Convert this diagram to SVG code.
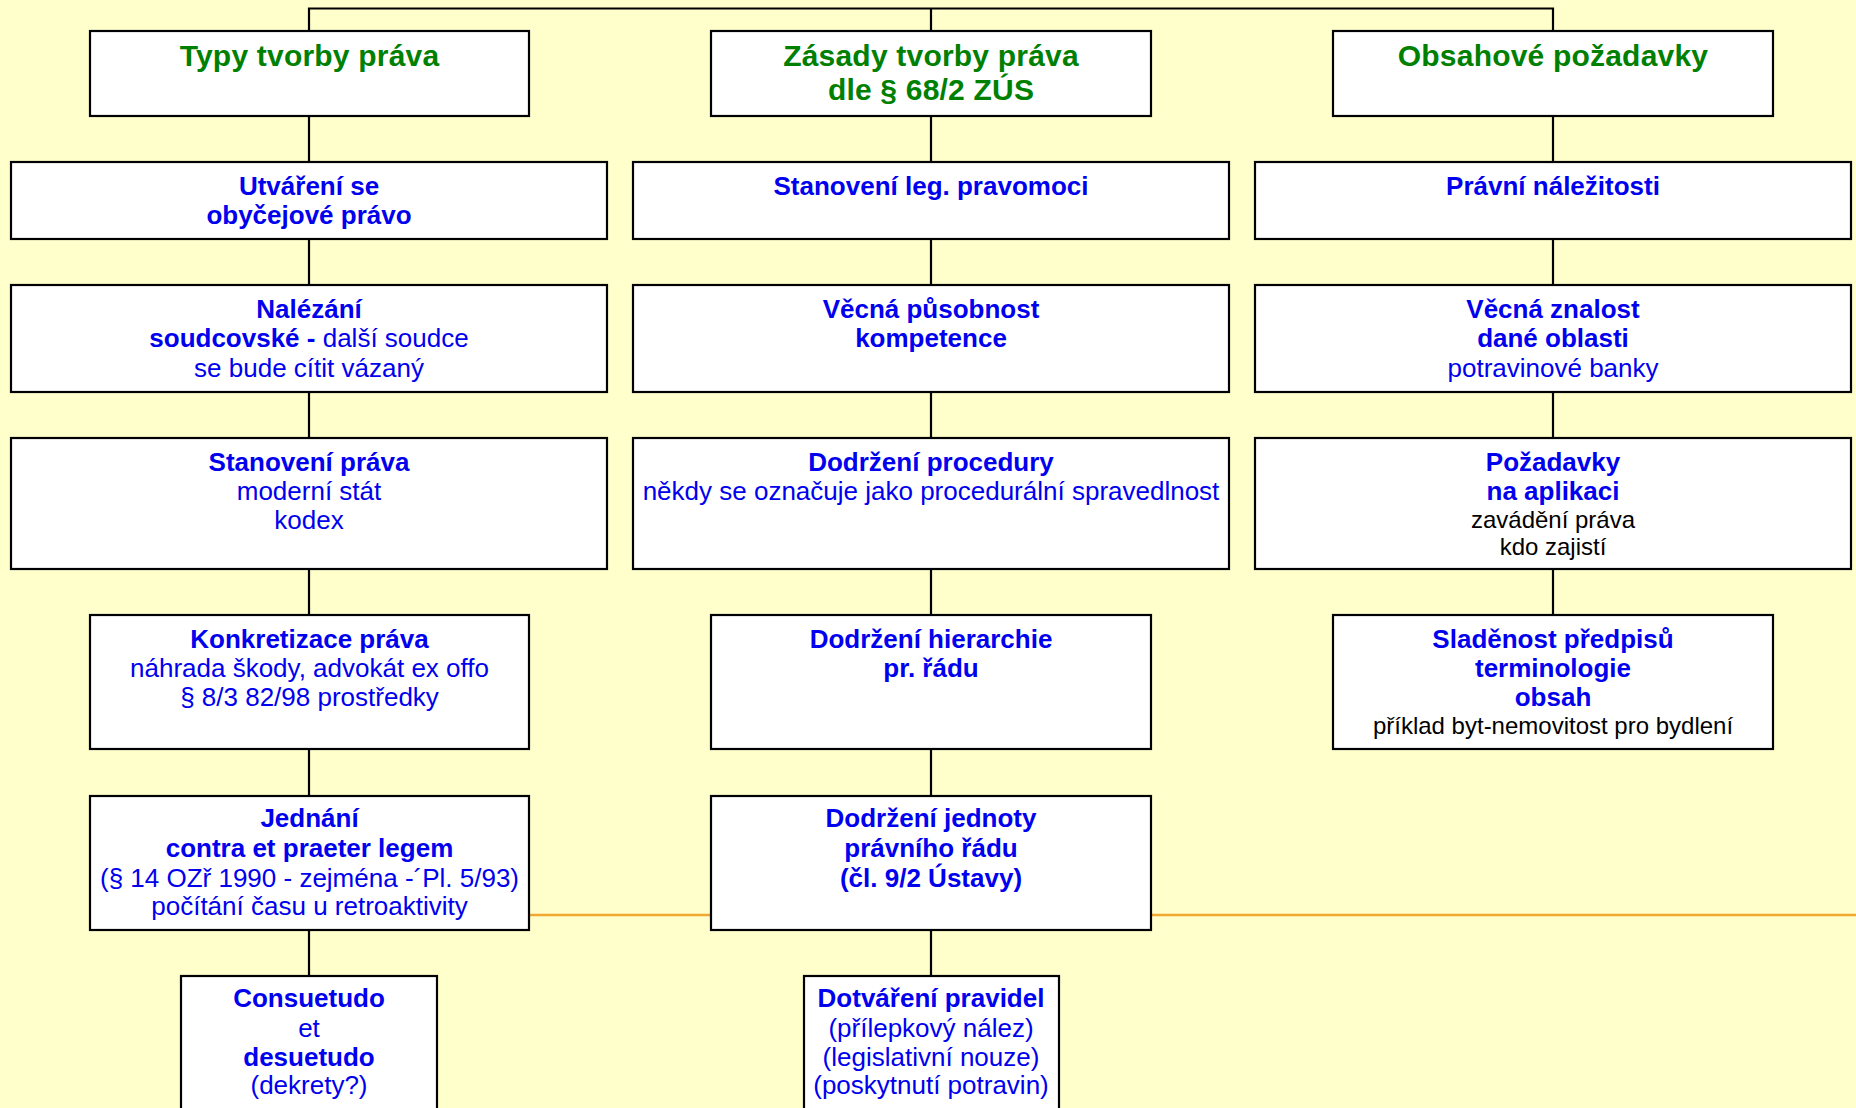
<svg xmlns="http://www.w3.org/2000/svg" width="1856" height="1108" viewBox="0 0 1856 1108">
<style>
.box{fill:#ffffff;stroke:#000000;stroke-width:2.2}
.con{fill:none;stroke:#000000;stroke-width:2.2}
.orange{fill:none;stroke:#F0A830;stroke-width:2.6}
text{font-family:"Liberation Sans",Arial,sans-serif;text-anchor:middle}
.h{font-size:30px;font-weight:bold;fill:#008000;letter-spacing:0.2px}
.b{font-size:26px;font-weight:bold;fill:#0000EE}
.r{font-size:26px;fill:#0000EE}
.k{font-size:24px;fill:#000000}
.rb{font-weight:normal}
</style>
<rect x="0" y="0" width="1856" height="1108" fill="#FFFFCC"/>
<line class="orange" x1="529" y1="915" x2="1856" y2="915"/>
<g id="connectors">
<path class="con" d="M309 31 V8.5 H1553 V31 M931 8.5 V31"/>
<path class="con" d="M309 116 V162 M309 239 V285 M309 392 V438 M309 569 V615 M309 749 V796 M309 930 V976"/>
<path class="con" d="M931 116 V162 M931 239 V285 M931 392 V438 M931 569 V615 M931 749 V796 M931 930 V976"/>
<path class="con" d="M1553 116 V162 M1553 239 V285 M1553 392 V438 M1553 569 V615"/>
</g>
<g id="typy"><rect class="box" x="90" y="31" width="439" height="85"/><text class="h" x="309.5" y="66">Typy tvorby práva</text></g>
<g id="zasady"><rect class="box" x="711" y="31" width="440" height="85"/><text class="h" x="931" y="66">Zásady tvorby práva</text><text class="h" x="931" y="100">dle § 68/2 ZÚS</text></g>
<g id="obsahove"><rect class="box" x="1333" y="31" width="440" height="85"/><text class="h" x="1553" y="66">Obsahové požadavky</text></g>

<g id="utvareni"><rect class="box" x="11" y="162" width="596" height="77"/><text class="b" x="309" y="194.5">Utváření se</text><text class="b" x="309" y="223.5">obyčejové právo</text></g>
<g id="stanoveni-leg"><rect class="box" x="633" y="162" width="596" height="77"/><text class="b" x="931" y="194.5">Stanovení leg. pravomoci</text></g>
<g id="pravni-nalezitosti"><rect class="box" x="1255" y="162" width="596" height="77"/><text class="b" x="1553" y="194.5">Právní náležitosti</text></g>

<g id="nalezani"><rect class="box" x="11" y="285" width="596" height="107"/><text class="b" x="309" y="317.5">Nalézání</text><text class="b" x="309" y="346.5">soudcovské - <tspan class="rb">další soudce</tspan></text><text class="r" x="309" y="376.5">se bude cítit vázaný</text></g>
<g id="vecna-pusobnost"><rect class="box" x="633" y="285" width="596" height="107"/><text class="b" x="931" y="317.5">Věcná působnost</text><text class="b" x="931" y="346.5">kompetence</text></g>
<g id="vecna-znalost"><rect class="box" x="1255" y="285" width="596" height="107"/><text class="b" x="1553" y="317.5">Věcná znalost</text><text class="b" x="1553" y="346.5">dané oblasti</text><text class="r" x="1553" y="376.5">potravinové banky</text></g>

<g id="stanoveni-prava"><rect class="box" x="11" y="438" width="596" height="131"/><text class="b" x="309" y="470.5">Stanovení práva</text><text class="r" x="309" y="499.5">moderní stát</text><text class="r" x="309" y="528.5">kodex</text></g>
<g id="dodrzeni-procedury"><rect class="box" x="633" y="438" width="596" height="131"/><text class="b" x="931" y="470.5">Dodržení procedury</text><text class="r" x="931" y="499.5">někdy se označuje jako procedurální spravedlnost</text></g>
<g id="pozadavky"><rect class="box" x="1255" y="438" width="596" height="131"/><text class="b" x="1553" y="470.5">Požadavky</text><text class="b" x="1553" y="499.5">na aplikaci</text><text class="k" x="1553" y="527.5">zavádění práva</text><text class="k" x="1553" y="554.5">kdo zajistí</text></g>

<g id="konkretizace"><rect class="box" x="90" y="615" width="439" height="134"/><text class="b" x="309.5" y="647.5">Konkretizace práva</text><text class="r" x="309.5" y="676.5">náhrada škody, advokát ex offo</text><text class="r" x="309.5" y="705.5">§ 8/3 82/98 prostředky</text></g>
<g id="hierarchie"><rect class="box" x="711" y="615" width="440" height="134"/><text class="b" x="931" y="647.5">Dodržení hierarchie</text><text class="b" x="931" y="676.5">pr. řádu</text></g>
<g id="sladenost"><rect class="box" x="1333" y="615" width="440" height="134"/><text class="b" x="1553" y="647.5">Sladěnost předpisů</text><text class="b" x="1553" y="676.5">terminologie</text><text class="b" x="1553" y="705.5">obsah</text><text class="k" x="1553" y="733.5">příklad byt-nemovitost pro bydlení</text></g>

<g id="jednani"><rect class="box" x="90" y="796" width="439" height="134"/><text class="b" x="309.5" y="826.5">Jednání</text><text class="b" x="309.5" y="856.5">contra et praeter legem</text><text class="r" x="309.5" y="886.5">(§ 14 OZř 1990 - zejména -´Pl. 5/93)</text><text class="r" x="309.5" y="914.5">počítání času u retroaktivity</text></g>
<g id="jednota"><rect class="box" x="711" y="796" width="440" height="134"/><text class="b" x="931" y="826.5">Dodržení jednoty</text><text class="b" x="931" y="856.5">právního řádu</text><text class="b" x="931" y="886.5">(čl. 9/2 Ústavy)</text></g>

<g id="consuetudo"><rect class="box" x="181" y="976" width="256" height="142"/><text class="b" x="309" y="1006.5">Consuetudo</text><text class="r" x="309" y="1036.5">et</text><text class="b" x="309" y="1065.5">desuetudo</text><text class="r" x="309" y="1093.5">(dekrety?)</text></g>
<g id="dotvareni"><rect class="box" x="804" y="976" width="255" height="142"/><text class="b" x="931" y="1006.5">Dotváření pravidel</text><text class="r" x="931" y="1036.5">(přílepkový nález)</text><text class="r" x="931" y="1065.5">(legislativní nouze)</text><text class="r" x="931" y="1093.5">(poskytnutí potravin)</text></g>
</svg>
